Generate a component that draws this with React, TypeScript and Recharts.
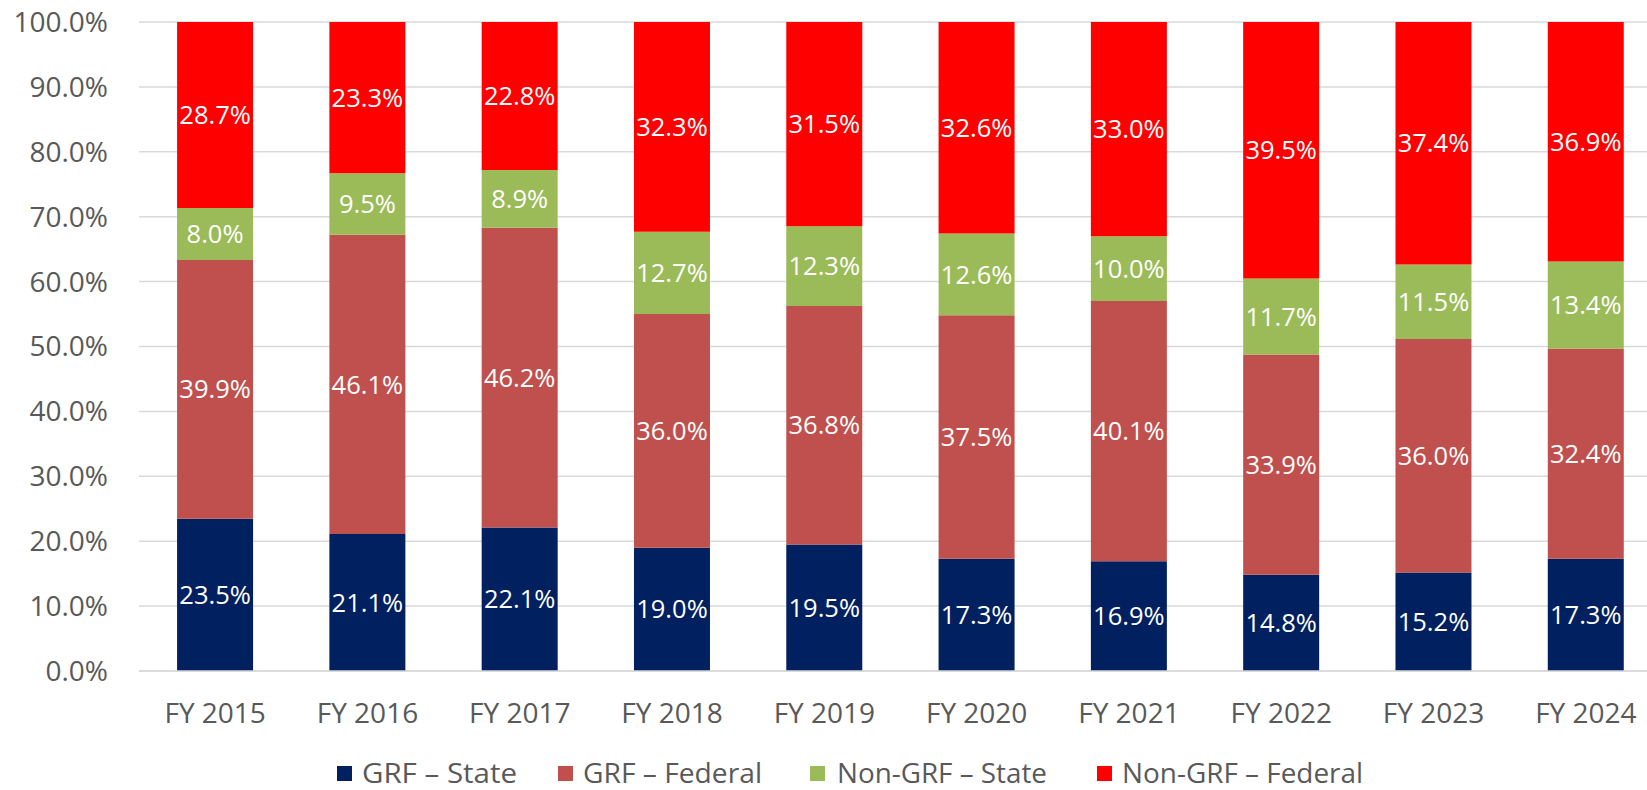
import React from 'react';
import { BarChart, Bar, XAxis, YAxis, CartesianGrid, Legend, LabelList } from 'recharts';

const years = ['FY 2015', 'FY 2016', 'FY 2017', 'FY 2018', 'FY 2019', 'FY 2020', 'FY 2021', 'FY 2022', 'FY 2023', 'FY 2024'];
const grfState = [23.5, 21.1, 22.1, 19.0, 19.5, 17.3, 16.9, 14.8, 15.2, 17.3];
const grfFederal = [39.9, 46.1, 46.2, 36.0, 36.8, 37.5, 40.1, 33.9, 36.0, 32.4];
const nonGrfState = [8.0, 9.5, 8.9, 12.7, 12.3, 12.6, 10.0, 11.7, 11.5, 13.4];
const nonGrfFederal = [28.7, 23.3, 22.8, 32.3, 31.5, 32.6, 33.0, 39.5, 37.4, 36.9];
const yTicks = [0, 0.1, 0.2, 0.3, 0.4, 0.5, 0.6, 0.7, 0.8, 0.9, 1];

const seriesKeys = ['grfState', 'grfFederal', 'nonGrfState', 'nonGrfFederal'];
const seriesNames = ['GRF – State', 'GRF – Federal', 'Non-GRF – State', 'Non-GRF – Federal'];
const seriesColors = ['#002060', '#C0504D', '#9BBB59', '#FF0000'];

const data = years.map((year, i) => ({
  year,
  grfState: grfState[i],
  grfFederal: grfFederal[i],
  nonGrfState: nonGrfState[i],
  nonGrfFederal: nonGrfFederal[i],
}));

const FONT = '"Open Sans", sans-serif';
const AXIS_COLOR = '#595959';

// legend item placement (square x, text x, text width), same order as the series
const legendSlots = [
  { box: 337, text: 362, width: 155 },
  { box: 558, text: 583, width: 179 },
  { box: 810, text: 837, width: 210 },
  { box: 1097, text: 1122, width: 241 },
];

// legend box sits at page y 742..790
const LegendContent = () => (
  <svg width={1670} height={48} style={{ display: 'block', overflow: 'visible' }}>
    {seriesNames.map((name, i) => {
      const slot = legendSlots[i];
      return (
        <g key={name}>
          <rect x={slot.box} y={24} width={15} height={15} fill={seriesColors[i]} />
          <text
            x={slot.text}
            y={41}
            fontSize={28}
            fontFamily={FONT}
            fill={AXIS_COLOR}
            textLength={slot.width}
            lengthAdjust="spacingAndGlyphs"
          >
            {name}
          </text>
        </g>
      );
    })}
  </svg>
);

const fmt = (v: any) => Number(v).toFixed(1) + '%';

const labelStyle = { fill: '#FFFFFF', fontSize: 25.5, fontFamily: FONT };

export default function App() {
  return (
    <div style={{ position: 'fixed', left: 0, top: 0, width: 1647, height: 790, overflow: 'hidden', background: '#fff' }}>
      <BarChart
        width={1670}
        height={790}
        data={data}
        stackOffset="expand"
        barCategoryGap="25%"
        margin={{ top: 22, right: 8, left: 0, bottom: 0 }}
      >
        <CartesianGrid vertical={false} stroke="#D9D9D9" strokeWidth={1.5} />
        <XAxis
          dataKey="year"
          height={71}
          tickLine={false}
          axisLine={{ stroke: '#D9D9D9', strokeWidth: 1.5 }}
          tickSize={0}
          tickMargin={32}
          tick={{ fill: AXIS_COLOR, fontSize: 28, fontFamily: FONT }}
        />
        <YAxis
          width={139}
          domain={[0, 1]}
          ticks={yTicks}
          tickFormatter={(v: number) => (v * 100).toFixed(1) + '%'}
          tickLine={false}
          axisLine={false}
          tickSize={0}
          tickMargin={31}
          tick={{ fill: AXIS_COLOR, fontSize: 28, fontFamily: FONT }}
        />
        <Legend
          verticalAlign="bottom"
          content={<LegendContent />}
          wrapperStyle={{ left: 0, top: 742, bottom: 'auto', width: 1670, height: 48 }}
        />
        {seriesKeys.map((key, i) => (
          <Bar key={key} dataKey={key} name={seriesNames[i]} stackId="a" fill={seriesColors[i]} isAnimationActive={false}>
            <LabelList dataKey={key} position="center" formatter={fmt} style={labelStyle} />
          </Bar>
        ))}
      </BarChart>
    </div>
  );
}
